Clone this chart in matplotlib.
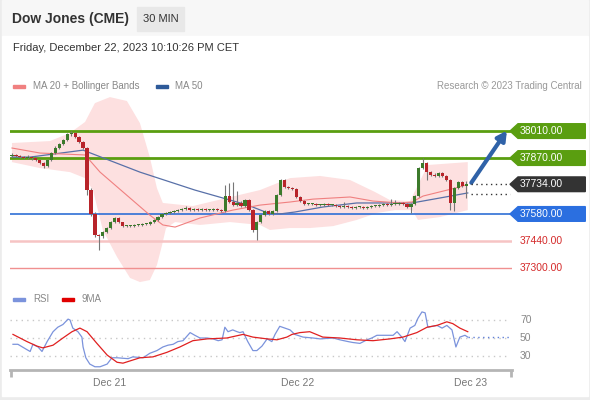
import numpy as np
import matplotlib
matplotlib.use('Agg')
import matplotlib.pyplot as plt
from matplotlib.patches import Rectangle, Polygon

plt.rcParams['font.family'] = ['Liberation Sans', 'DejaVu Sans']

# 30 min candles, Dow Jones (CME), Dec 20 evening -> Dec 22 22:00 CET
opens = [37880, 37886, 37880, 37875, 37870, 37875, 37870, 37860, 37844, 37829,
         37860, 37896, 37922, 37943, 37963, 37994, 38000, 37979, 37953, 37922,
         37704, 37580, 37471, 37466, 37486, 37507, 37538, 37559, 37538, 37518,
         37518, 37518, 37523, 37523, 37528, 37528, 37538, 37549, 37564, 37580,
         37585, 37590, 37595, 37600, 37606, 37611, 37600, 37606, 37600, 37606,
         37600, 37600, 37606, 37600, 37595, 37673, 37642, 37626, 37637, 37621,
         37652, 37600, 37497, 37538, 37574, 37595, 37580, 37595, 37678, 37756,
         37720, 37714, 37709, 37668, 37647, 37632, 37632, 37632, 37626, 37626,
         37632, 37626, 37626, 37621, 37616, 37621, 37616, 37611, 37616, 37616,
         37611, 37616, 37621, 37621, 37626, 37632, 37626, 37632, 37632, 37637,
         37632, 37616, 37632, 37673, 37818, 37844, 37797, 37782, 37777, 37792,
         37777, 37756, 37637, 37714, 37746, 37725]
highs = [37896, 37891, 37886, 37880, 37884, 37880, 37875, 37865, 37850, 37865,
         37901, 37930, 37950, 37970, 38002, 38010, 38005, 37984, 37958, 37927,
         37715, 37590, 37478, 37492, 37512, 37543, 37564, 37562, 37540, 37525,
         37525, 37528, 37530, 37533, 37535, 37543, 37554, 37569, 37585, 37592,
         37597, 37602, 37608, 37612, 37620, 37616, 37612, 37611, 37612, 37611,
         37607, 37612, 37611, 37606, 37730, 37740, 37746, 37700, 37645, 37660,
         37658, 37606, 37543, 37580, 37600, 37600, 37600, 37684, 37762, 37760,
         37725, 37720, 37714, 37673, 37652, 37638, 37638, 37637, 37632, 37637,
         37637, 37632, 37632, 37626, 37640, 37626, 37621, 37621, 37621, 37621,
         37621, 37626, 37628, 37632, 37637, 37637, 37660, 37650, 37642, 37642,
         37637, 37637, 37680, 37824, 37870, 37850, 37803, 37790, 37798, 37798,
         37782, 37762, 37720, 37752, 37752, 37750]
lows = [37875, 37875, 37870, 37865, 37865, 37862, 37855, 37839, 37820, 37825,
        37855, 37890, 37915, 37938, 37958, 37985, 37972, 37948, 37915, 37680,
        37570, 37460, 37393, 37455, 37480, 37500, 37533, 37533, 37512, 37512,
        37512, 37512, 37518, 37518, 37522, 37522, 37533, 37544, 37559, 37575,
        37580, 37585, 37590, 37595, 37600, 37595, 37595, 37595, 37595, 37594,
        37594, 37595, 37594, 37590, 37590, 37636, 37620, 37620, 37615, 37615,
        37594, 37486, 37445, 37533, 37568, 37574, 37574, 37590, 37672, 37714,
        37709, 37704, 37662, 37642, 37626, 37626, 37626, 37621, 37621, 37621,
        37621, 37620, 37616, 37610, 37611, 37610, 37605, 37606, 37610, 37605,
        37606, 37611, 37615, 37616, 37621, 37621, 37621, 37626, 37626, 37626,
        37610, 37585, 37626, 37668, 37812, 37756, 37776, 37770, 37770, 37770,
        37750, 37600, 37595, 37708, 37718, 37663]
closes = [37886, 37880, 37875, 37870, 37875, 37870, 37860, 37844, 37829, 37860,
          37896, 37922, 37943, 37963, 37994, 38000, 37979, 37953, 37922, 37704,
          37580, 37471, 37466, 37486, 37507, 37538, 37559, 37538, 37518, 37518,
          37518, 37523, 37523, 37528, 37528, 37538, 37549, 37564, 37580, 37585,
          37590, 37595, 37600, 37606, 37611, 37600, 37606, 37600, 37606, 37600,
          37600, 37606, 37600, 37595, 37673, 37642, 37626, 37637, 37621, 37652,
          37600, 37497, 37538, 37574, 37595, 37580, 37595, 37678, 37756, 37720,
          37714, 37709, 37668, 37647, 37632, 37632, 37632, 37626, 37626, 37632,
          37626, 37626, 37621, 37616, 37621, 37616, 37611, 37616, 37616, 37611,
          37616, 37621, 37621, 37626, 37632, 37626, 37632, 37632, 37637, 37632,
          37616, 37632, 37673, 37818, 37844, 37797, 37782, 37777, 37792, 37777,
          37756, 37637, 37714, 37746, 37725, 37734]

# indicators (x = bar index)
ma50_x = [0, 4.6, 18.0, 32.4, 46.3, 59.7, 64.8, 67.8, 71.6, 78.7, 87.3, 94.4, 101.3, 108.4, 115.4]
ma50_v = [37875, 37875, 37911, 37797, 37704, 37626, 37585, 37580, 37590, 37616, 37637, 37637, 37637, 37663, 37689]

ma20_x = [0, 7.1, 18.5, 22.3, 34.9, 38.2, 41.3, 47.6, 55.9, 62.8, 70.4, 76.2, 85.6, 91.4, 98.2, 101.3, 104.1, 112.2, 114.9]
ma20_v = [37922, 37896, 37886, 37797, 37574, 37523, 37512, 37559, 37600, 37626, 37642, 37657, 37668, 37647, 37637, 37642, 37673, 37714, 37730]

bb_up_x = [0, 9.6, 14.7, 18.5, 21.0, 24.8, 29.1, 32.4, 34.9, 36.7, 38.2, 45.8, 54.4, 62.8, 70.4, 78.0,
           85.6, 91.9, 95.7, 100.8, 102.8, 105.3, 115.4]
bb_up = [37948, 37958, 38000, 38057, 38155, 38186, 38166, 38051, 37875, 37714, 37637, 37621, 37663, 37704,
         37766, 37777, 37756, 37694, 37652, 37647, 37730, 37834, 37849]
bb_lo_x = [0, 7.1, 14.7, 18.5, 20.5, 23.0, 26.6, 29.9, 32.4, 34.9, 36.7, 38.0, 39.0, 41.3, 47.6, 55.2,
           62.8, 65.3, 70.4, 75.4, 81.3, 87.3, 92.4, 97.0, 101.3, 102.8, 108.4, 115.4]
bb_lo = [37849, 37818, 37797, 37766, 37704, 37497, 37357, 37248, 37227, 37237, 37315, 37419, 37507, 37538,
         37523, 37538, 37523, 37497, 37507, 37507, 37517, 37549, 37585, 37600, 37600, 37549, 37564, 37600]

rsi_x = [0.25, 1.5, 3.8, 4.6, 5.3, 6.6, 7.6, 8.9, 10.4, 11.6,
         12.9, 14.2, 14.7, 15.4, 16.7, 17.7, 18.0, 18.7, 19.7, 21.0,
         22.3, 24.1, 25.3, 26.6, 29.4, 30.6, 33.2, 34.9, 36.7, 38.2,
         39.5, 40.8, 42.0, 43.3, 45.1, 46.3, 47.6, 49.4, 50.9, 52.2,
         53.2, 53.9, 54.7, 55.9, 57.0, 57.7, 58.5, 59.7, 61.0, 62.0,
         63.3, 64.6, 65.8, 66.6, 67.8, 69.1, 70.4, 71.6, 73.7, 76.2,
         78.0, 81.3, 83.0, 85.1, 86.3, 88.1, 89.9, 91.1, 92.4, 94.9,
         96.5, 97.5, 98.7, 99.5, 100.8, 102.0, 102.8, 103.8, 104.6, 105.3,
         107.6, 108.9, 110.1, 111.4, 112.4, 113.4, 114.7, 115.4]
rsi_v = [43, 43, 37, 35, 43, 40, 35, 46, 57, 62,
         65, 71, 70, 61, 57, 51, 40, 28, 21, 18,
         18, 21, 28, 28, 27, 29, 28, 33, 36, 40,
         42, 43, 46, 47, 56, 53, 50, 50, 49, 47,
         48, 62, 57, 59, 57, 56, 57, 46, 36, 36,
         41, 49, 46, 54, 63, 61, 59, 54, 51, 50,
         49, 50, 48, 46, 45, 44, 48, 50, 53, 53,
         53, 57, 51, 46, 61, 64, 72, 79, 78, 62,
         64, 61, 64, 59, 40, 51, 53, 51]
ma9_x = [0.25, 3.8, 6.3, 7.8, 10.4, 12.9, 15.2, 17.2, 19.0, 21.5,
         24.1, 26.6, 28.1, 32.4, 35.7, 39.2, 42.5, 45.8, 49.4, 54.4,
         58.5, 61.0, 64.6, 67.1, 69.6, 70.9, 72.9, 75.4, 78.7, 83.0,
         87.3, 91.4, 95.7, 99.0, 102.5, 105.1, 107.6, 110.1, 111.6, 113.4, 115.4]
ma9_v = [54, 46, 41, 39, 42, 50, 57, 61, 57, 44,
         31, 23, 22, 28, 29, 34, 40, 47, 49, 50,
         54, 51, 49, 48, 51, 54, 56, 57, 51, 50,
         48, 47, 49, 51, 56, 62, 64, 68, 66, 61, 57]

day_ticks = [24.8, 72.2, 116.2]
day_labels = ['Dec 21', 'Dec 22', 'Dec 23']

resistances = [38010, 37870]
support = 37580
lower_levels = [37440, 37300]
last_price = 37734
target = 38010

W, H = 590, 400
fig = plt.figure(figsize=(W / 100, H / 100), dpi=100)


def px_axes(l, t, r, b, z):
    a = fig.add_axes([l / W, 1 - b / H, (r - l) / W, (b - t) / H], zorder=z)
    a.patch.set_alpha(0)
    return a


# background / header, in pixel coords
bg = fig.add_axes([0, 0, 1, 1], zorder=0)
bg.set_xlim(0, W)
bg.set_ylim(H, 0)
bg.axis('off')
bg.add_patch(Rectangle((0, 0), W, H, color='#ececec'))
bg.add_patch(Rectangle((2, 0), 586, 36, color='#f7f7f7'))
bg.add_patch(Rectangle((2, 36), 586, 360, color='white'))
bg.text(12, 19, 'Dow Jones (CME)', fontsize=10, fontweight='bold', color='#333333', va='center')
bg.add_patch(Rectangle((137, 7), 47, 24, color='#e8e8e8'))
bg.text(160.5, 19, '30 MIN', fontsize=8, color='#333333', ha='center', va='center')
bg.text(13, 48, 'Friday, December 22, 2023 10:10:26 PM CET', fontsize=8, color='#333333', va='center')

bg.add_patch(Rectangle((13, 84.5), 12, 3.5, color='#f08080'))
bg.text(33, 86, 'MA 20 + Bollinger Bands', fontsize=7, color='#888888', va='center')
bg.add_patch(Rectangle((156, 84.5), 12, 3.5, color='#2e5a99'))
bg.text(175, 86, 'MA 50', fontsize=7, color='#888888', va='center')
bg.text(582, 86, 'Research \u00a9 2023 Trading Central', fontsize=7, color='#999999', ha='right', va='center')

bg.add_patch(Rectangle((13, 297.5), 12, 3.5, color='#7b93dc'))
bg.text(33, 299, 'RSI', fontsize=7, color='#888888', va='center')
bg.add_patch(Rectangle((62, 297.5), 12, 3.5, color='#e00000'))
bg.text(82, 299, '9MA', fontsize=7, color='#888888', va='center')

# ---- price panel
ax = px_axes(10, 95, 512, 288, 2)
ax.set_xlim(-0.5, 126.6)
ax.set_ylim(37196, 38197)
ax.axis('off')

ax.fill(np.r_[bb_up_x, bb_lo_x[::-1]], np.r_[bb_up, bb_lo[::-1]], color='#fde0e0', lw=0, zorder=1)

for lvl in resistances:
    ax.axhline(lvl, xmax=0.998, color='#5a9e10', lw=2, zorder=2)
ax.axhline(support, xmax=0.998, color='#2f6fd6', lw=1.2, zorder=2)
ax.axhline(lower_levels[0], xmax=0.998, color='#f6c4c4', lw=1.8, zorder=2)
ax.axhline(lower_levels[1], xmax=0.998, color='#f09090', lw=1, zorder=2)

ax.plot(ma50_x, ma50_v, color='#5870a8', lw=0.9, zorder=3)
ax.plot(ma20_x, ma20_v, color='#f08080', lw=0.8, zorder=3)

x = np.arange(len(closes))
o = np.array(opens)
c = np.array(closes)
up = c >= o
col = np.where(up, '#3c7a2b', '#b8242a')
ax.vlines(x, lows, highs, color='#777777', lw=0.8, zorder=4)
ax.bar(x, np.maximum(np.abs(c - o), 5), bottom=np.minimum(o, c), width=0.82, color=col, zorder=5)

# trend arrow + last price dotted guides
ax.annotate('', xy=(125.3, target + 2), xytext=(116.3, last_price + 8),
            arrowprops=dict(arrowstyle='-|>,head_length=0.55,head_width=0.3', color='#2f62a8', lw=3,
                            shrinkA=0, shrinkB=0), zorder=6)
ax.plot([116.3, 126.2], [last_price, last_price], color='#333333', lw=1, ls=(0, (1, 2.5)), zorder=6)
ax.plot([116.3, 126.2], [37685, 37685], color='#333333', lw=1, ls=(0, (1, 2.5)), zorder=6)

# right side labels
yt = ax.get_yaxis_transform()
hh = 38


def tag(val, face):
    pts = [(0.996, val), (1.012, val + hh), (1.146, val + hh), (1.146, val - hh), (1.012, val - hh)]
    ax.add_patch(Polygon(pts, closed=True, color=face, transform=yt, clip_on=False, zorder=7))
    ax.text(1.016, val, '%.2f' % val, transform=yt, color='white', fontsize=7.5, va='center', zorder=8)


tag(resistances[0], '#5a9e10')
tag(resistances[1], '#5a9e10')
tag(last_price, '#333333')
tag(support, '#2b6fe0')
for lvl in lower_levels:
    ax.text(1.016, lvl, '%.2f' % lvl, transform=yt, color='#d42a2a', fontsize=7.5, va='center')

# ---- RSI panel
rx = px_axes(10, 305, 512, 370, 2)
rx.set_xlim(-0.5, 126.6)
rx.set_ylim(14.4, 86.7)
for s in ['top', 'left', 'right']:
    rx.spines[s].set_visible(False)
rx.spines['bottom'].set_color('#b5b5b5')
rx.spines['bottom'].set_linewidth(2)
rx.set_yticks([])
rx.set_xticks(day_ticks, day_labels)
rx.tick_params(axis='x', length=0, pad=6, labelsize=7.5, labelcolor='#777777')
rx.set_xticks([-0.3, 126.3], minor=True)
rx.tick_params(axis='x', which='minor', length=5, width=2, color='#b5b5b5')

for lvl in [30, 50, 70]:
    rx.axhline(lvl, xmax=0.996, color='#c8c8c8', lw=1, ls=(0, (1, 3)))
    rx.text(1.016, lvl, str(lvl), transform=rx.get_yaxis_transform(), fontsize=7.5, color='#888888', va='center')

rx.plot(rsi_x, rsi_v, color='#7b93dc', lw=0.9)
rx.plot(ma9_x, ma9_v, color='#e02020', lw=0.9)
rx.plot([115.4, 126.2], [rsi_v[-1], rsi_v[-1]], color='#5f7fd8', lw=1, ls=(0, (1, 2.5)))

fig.savefig('out.png', dpi=100)
